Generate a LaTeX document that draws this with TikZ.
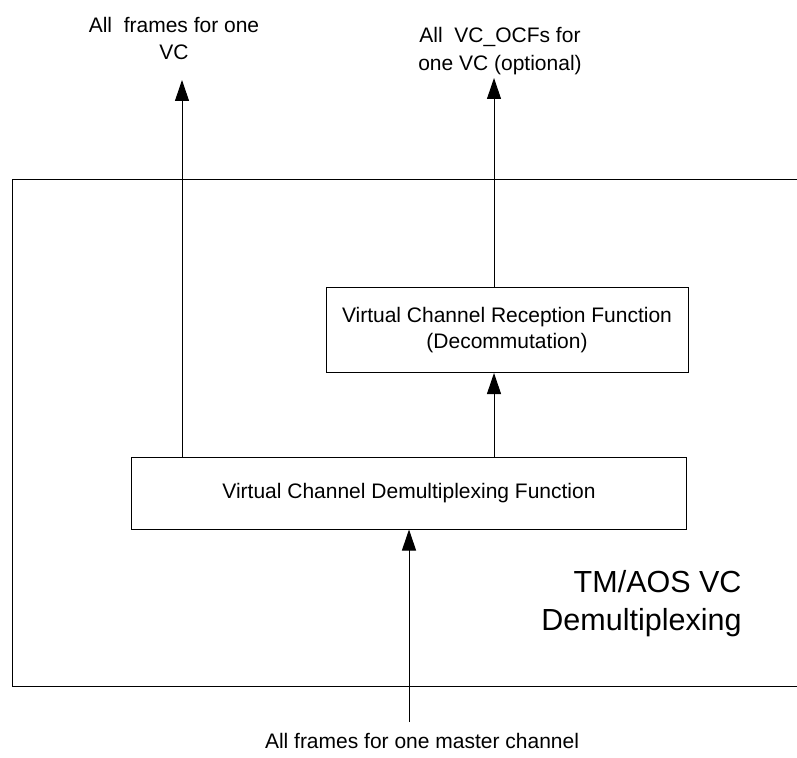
\documentclass[tikz,border=0pt]{standalone}
\usepackage{fontspec}
\setmainfont{Liberation Sans}
\usetikzlibrary{arrows.meta}
\begin{document}
\begin{tikzpicture}[x=1pt,y=-1pt,
  line width=1pt,
  box/.style={draw, fill=white, inner sep=0pt, align=center, font=\fontsize{21}{26}\selectfont},
  lbl/.style={inner sep=0pt, align=center, font=\fontsize{21}{26.5}\selectfont},
  arr/.style={-{Triangle[length=21pt,width=14pt]}}]
\useasboundingbox (0,0) rectangle (797,757);
% outer frame (right side runs off the page)
\draw (797,179) -- (12,179) -- (12,686) -- (797,686);
% boxes
\node[box, minimum width=555, minimum height=72] (demux) at (409,493) {Virtual Channel Demultiplexing Function};
\node[box, minimum width=362, minimum height=85] (rec) at (507,330) {Virtual Channel Reception Function\\(Decommutation)};
% free ends
\coordinate (t1) at (182,80);
\coordinate (t2) at (494,78);
\coordinate (b) at (409,722);
% connectors
\draw[arr] (t1 |- demux.north) -- (t1);
\draw[arr] (t2 |- rec.north) -- (t2);
\draw[arr] (t2 |- demux.north) -- (t2 |- rec.south);
\draw[arr] (b) -- (b |- demux.south);
% labels
\node[lbl, anchor=north] (l1) at (174,17) {All\ \ frames for one\\VC};
\node[lbl, anchor=north, font=\fontsize{21}{28}\selectfont] (l2) at (500,27) {All\ \ VC\_OCFs for\\one VC (optional)};
\node[lbl, anchor=base] (l3) at (422,748) {All frames for one master channel};
\node[lbl, anchor=north east, align=right, font=\fontsize{30.5}{38}\selectfont] (l4) at (742,570) {TM/AOS VC\\Demultiplexing};
\end{tikzpicture}
\end{document}
